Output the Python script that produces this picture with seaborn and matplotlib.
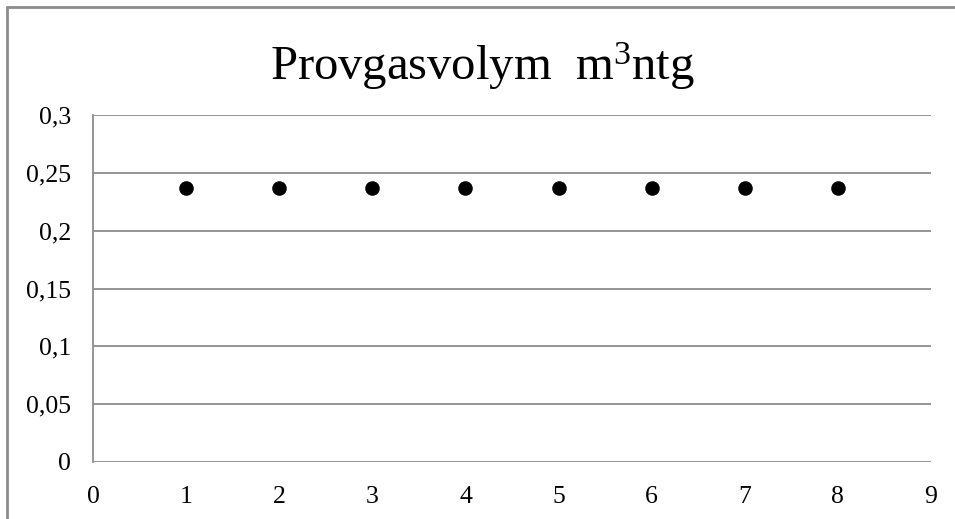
import matplotlib
matplotlib.use("Agg")
import matplotlib.pyplot as plt
import seaborn as sns
import pandas as pd
from matplotlib.lines import Line2D

sns.set_theme(style="white")
plt.rcParams['font.family'] = ['Liberation Serif', 'DejaVu Serif']
plt.rcParams['mathtext.fontset'] = 'custom'
plt.rcParams['mathtext.rm'] = 'Liberation Serif'
plt.rcParams['mathtext.it'] = 'Liberation Serif'
plt.rcParams['text.color'] = 'black'

x_values = [1, 2, 3, 4, 5, 6, 7, 8]
y_values = [0.237, 0.237, 0.237, 0.237, 0.237, 0.237, 0.237, 0.237]
y_ticks = [0, 0.05, 0.1, 0.15, 0.2, 0.25, 0.3]
y_labels = ["0", "0,05", "0,1", "0,15", "0,2", "0,25", "0,3"]
x_ticks = [0, 1, 2, 3, 4, 5, 6, 7, 8, 9]
title = r"Provgasvolym  m$\mathrm{^3}$ntg"

df = pd.DataFrame({"x": x_values, "y": y_values})

fig = plt.figure(figsize=(9.55, 5.19), dpi=100)
ax = fig.add_axes([93/955, 1-462/519, (931-93)/955, (462-115)/519])

sns.scatterplot(data=df, x="x", y="y", ax=ax, color="black", s=110,
                edgecolor="black", linewidth=0, zorder=3)

ax.set_xlim(0, 9)
ax.set_ylim(0, 0.3)
ax.set_yticks(y_ticks)
ax.set_yticklabels(y_labels)
ax.set_xticks(x_ticks)
ax.set_xticklabels([str(v) for v in x_ticks])
ax.set_xlabel("")
ax.set_ylabel("")
ax.yaxis.grid(True, color="#8c8c8c", linewidth=1.3)
ax.xaxis.grid(False)
for side in ["top", "right", "bottom"]:
    ax.spines[side].set_visible(False)
ax.spines["left"].set_color("#8c8c8c")
ax.spines["left"].set_linewidth(1.3)
ax.tick_params(axis="both", length=0, labelsize=18.5, colors="black")
ax.tick_params(axis="y", pad=16)
ax.tick_params(axis="x", pad=17)

fig.text(0.5 + 5/955, 1-66/519, title, ha="center", va="center", fontsize=35,
         color="black")

# outer chart frame (left and top visible)
fig.add_artist(Line2D([6.5/955, 6.5/955], [0, 1-7/519], transform=fig.transFigure,
                      color="#8c8c8c", linewidth=2))
fig.add_artist(Line2D([6.5/955, 1], [1-7/519, 1-7/519], transform=fig.transFigure,
                      color="#8c8c8c", linewidth=2))

fig.savefig("out.png", dpi=100)
